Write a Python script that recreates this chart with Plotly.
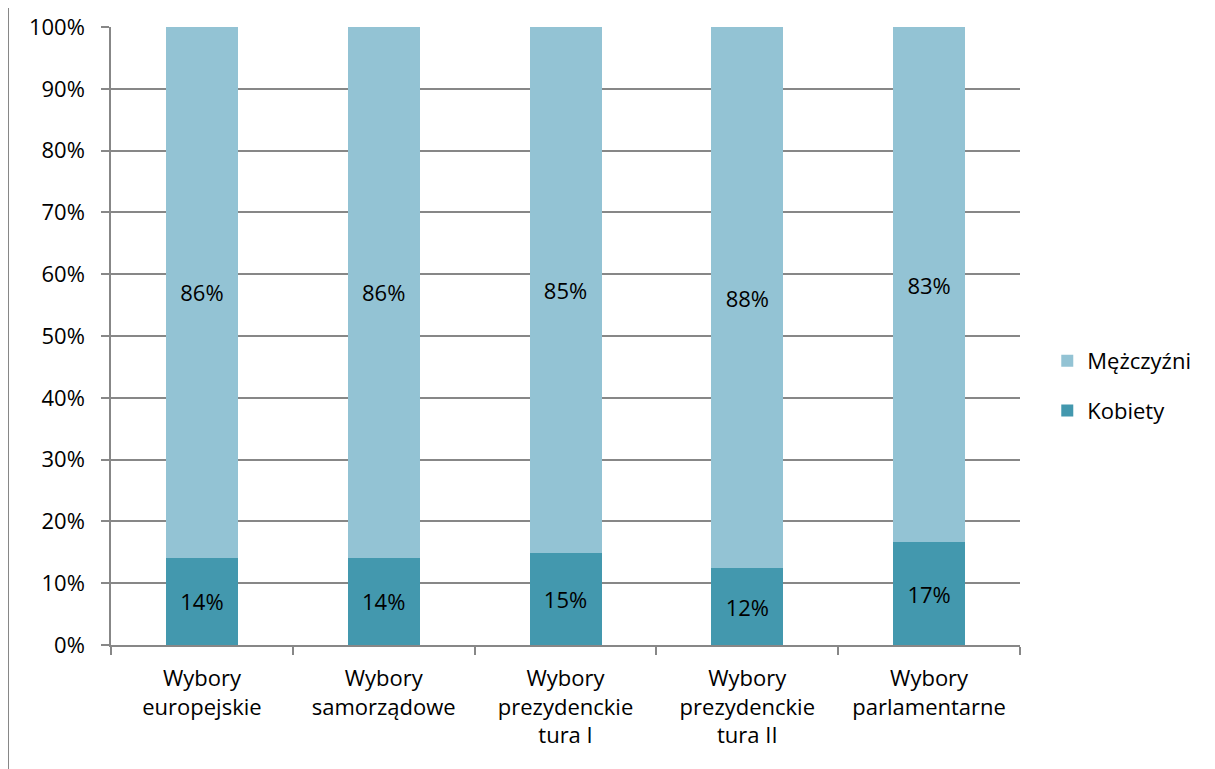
import plotly.graph_objects as go

categories = ["Wybory<br>europejskie", "Wybory<br>samorządowe", "Wybory<br>prezydenckie<br>tura I",
              "Wybory<br>prezydenckie<br>tura II", "Wybory<br>parlamentarne"]
kobiety = [14.1, 14.1, 14.9, 12.4, 16.6]
mezczyzni = [85.9, 85.9, 85.1, 87.6, 83.4]
y_ticks = [0, 10, 20, 30, 40, 50, 60, 70, 80, 90, 100]

FONT = "Open Sans"
GRID = "#878787"

fig = go.Figure()
fig.add_trace(go.Bar(
    x=categories, y=kobiety, name="Kobiety", marker_color="#4398AE", marker_line_width=0,
    text=[f"{round(v)}%" for v in kobiety], textposition="inside", insidetextanchor="middle",
    textfont=dict(family=FONT, size=22, color="black"), legendgroup="k", legendrank=2,
))
fig.add_trace(go.Bar(
    x=categories, y=mezczyzni, name="Mężczyźni", marker_color="#93C3D4", marker_line_width=0,
    text=[f"{round(v)}%" for v in mezczyzni], textposition="inside", insidetextanchor="middle",
    textfont=dict(family=FONT, size=22, color="black"), legendgroup="m", legendrank=1,
))

fig.update_layout(
    barmode="stack", bargap=0.604,
    width=1215, height=769,
    margin=dict(l=103, r=203, t=19, b=132),
    paper_bgcolor="white", plot_bgcolor="white",
    font=dict(family=FONT, size=22, color="black"),
    legend=dict(x=1.03, xanchor="left", y=0.419, yanchor="middle",
                traceorder="grouped", tracegroupgap=18,
                font=dict(family=FONT, size=22, color="black")),
    xaxis=dict(showline=True, linecolor=GRID, linewidth=1.5, ticks="outside", tickson="boundaries",
               ticklen=8, tickcolor=GRID, tickwidth=1.5, showgrid=False, automargin=False,
               ticklabelstandoff=13,
               tickfont=dict(family=FONT, size=22, color="black")),
    yaxis=dict(range=[0, 100], tickvals=y_ticks, ticktext=[f"{v}%" for v in y_ticks],
               showline=True, linecolor=GRID, linewidth=1.5, ticks="outside", ticklen=8,
               tickcolor=GRID, tickwidth=1.5, showgrid=True, gridcolor=GRID, gridwidth=1.5,
               zeroline=False, ticklabelstandoff=12, automargin=False,
               tickfont=dict(family=FONT, size=22, color="black")),
    shapes=[dict(type="line", xref="paper", yref="paper", x0=-0.1133, x1=-0.1133,
                 y0=-0.23, y1=1.05, line=dict(color="#878787", width=2))],
)

fig.write_html("out.html")
